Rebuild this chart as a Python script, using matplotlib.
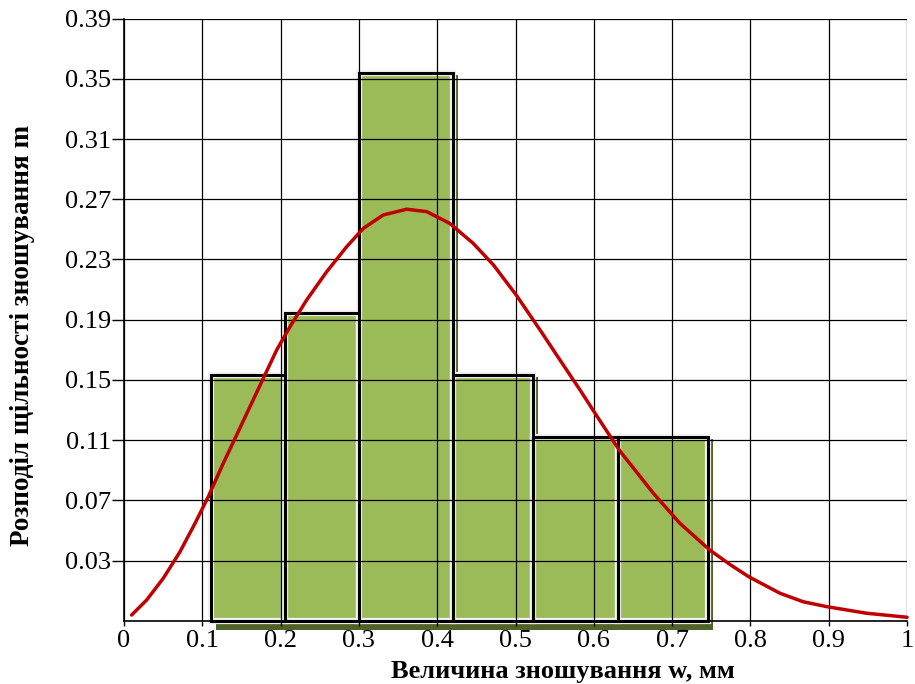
import matplotlib
matplotlib.use("Agg")
import matplotlib.pyplot as plt
from matplotlib.patches import Rectangle
from matplotlib.transforms import offset_copy

plt.rcParams['font.family'] = ['Liberation Serif', 'DejaVu Serif']

# histogram bins (edges) and heights
bin_edges = [0.111, 0.2056, 0.3005, 0.4206, 0.5227, 0.631, 0.746]
bin_heights = [0.1533, 0.1943, 0.354, 0.1533, 0.1119, 0.1119]

# red density curve
curve_x = [0.0098, 0.029, 0.0502, 0.0715, 0.0907, 0.1077, 0.1268, 0.1439, 0.1609, 0.1779,
           0.195, 0.212, 0.2333, 0.2589, 0.2844, 0.3057, 0.3312, 0.361, 0.3866, 0.416,
           0.4458, 0.4716, 0.5009, 0.5313, 0.5568, 0.5824, 0.6079, 0.633, 0.676, 0.710,
           0.748, 0.7749, 0.798, 0.838, 0.8675, 0.898, 0.948, 1.000]
curve_y = [-0.0062, 0.0038, 0.0182, 0.0358, 0.0547, 0.0724, 0.0946, 0.1134, 0.1322, 0.151,
           0.1699, 0.1853, 0.2031, 0.2219, 0.2385, 0.2507, 0.2596, 0.2634, 0.2618, 0.254,
           0.2408, 0.2265, 0.2064, 0.1832, 0.1632, 0.1433, 0.1228, 0.103, 0.0747, 0.0547,
           0.037, 0.027, 0.0192, 0.0082, 0.0026, -0.0007, -0.005, -0.0077]

x_ticks = [0, 0.1, 0.2, 0.3, 0.4, 0.5, 0.6, 0.7, 0.8, 0.9, 1]
x_labels = ['0', '0.1', '0.2', '0.3', '0.4', '0.5', '0.6', '0.7', '0.8', '0.9', '1']
y_ticks = [0.03, 0.07, 0.11, 0.15, 0.19, 0.23, 0.27, 0.31, 0.35, 0.39]
y_labels = ['0.03', '0.07', '0.11', '0.15', '0.19', '0.23', '0.27', '0.31', '0.35', '0.39']
y_bottom = -0.01

fig = plt.figure(figsize=(9.15, 6.84), dpi=100)
ax = fig.add_axes([0.1355, 0.0925, 0.9913 - 0.1355, 0.9727 - 0.0925])
ax.set_xlim(0, 1)
ax.set_ylim(y_bottom, 0.39)

# dark olive shadow, green fill with light rim, black outline
shadow_tr = offset_copy(ax.transData, fig=fig, x=5, y=-2, units='dots')
for i in range(len(bin_heights)):
    left = bin_edges[i]
    w = bin_edges[i + 1] - bin_edges[i]
    h = bin_heights[i] - y_bottom
    ax.add_patch(Rectangle((left, y_bottom - 0.0045), w, h + 0.0045, facecolor='#4F6228',
                           edgecolor='none', transform=shadow_tr, zorder=1, clip_on=False))
    g = Rectangle((left, y_bottom), w, h, facecolor='#9BBB59', edgecolor='#F2F2F2',
                  linewidth=4.5, zorder=1.5, clip_on=False)
    ax.add_patch(g)
    g.set_clip_path(g)
    ax.add_patch(Rectangle((left, y_bottom), w, h, facecolor='none', edgecolor='black',
                           linewidth=2.2, zorder=3, clip_on=False))

ax.plot(curve_x, curve_y, color='#C00000', linewidth=2.5, zorder=4,
        solid_capstyle='round', solid_joinstyle='round', clip_on=False)

ax.set_xticks(x_ticks)
ax.set_xticklabels(x_labels)
ax.set_yticks(y_ticks)
ax.set_yticklabels(y_labels)
ax.tick_params(axis='both', labelsize=19, colors='black', width=1)
ax.tick_params(axis='y', length=8.5, pad=1)
ax.tick_params(axis='x', length=3.5, pad=3)

ax.set_axisbelow(False)
ax.grid(True, color='black', linewidth=0.9)
for s in ['top', 'right']:
    ax.spines[s].set_visible(False)
ax.spines['left'].set_linewidth(1.2)
ax.spines['bottom'].set_linewidth(1.2)

ax.set_xlabel('Величина зношування w, мм', fontsize=19, fontweight='bold', va='center')
ax.xaxis.set_label_coords(0.5607, -0.085)
ax.set_ylabel('Розподіл щільності зношування m', fontsize=19.5, fontweight='bold', va='center')
ax.yaxis.set_label_coords(-0.129, 0.4746)

fig.savefig('out.png', dpi=100)
